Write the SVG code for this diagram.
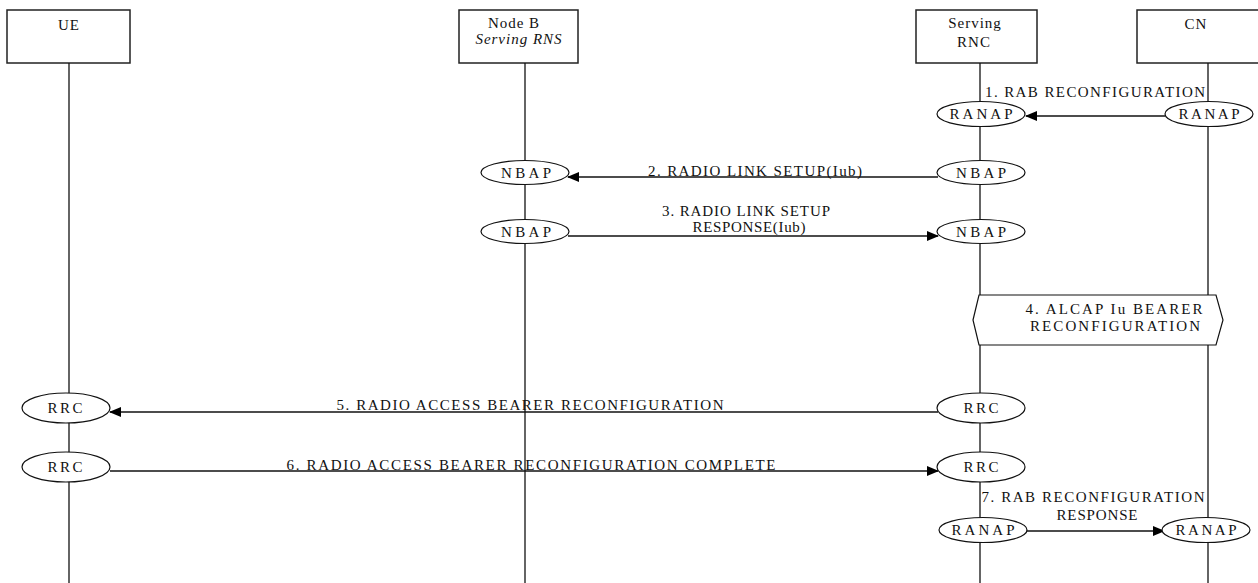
<svg xmlns="http://www.w3.org/2000/svg" width="1258" height="583" viewBox="0 0 1258 583">
<defs>
<marker id="ah" markerWidth="12" markerHeight="10" refX="11" refY="5" orient="auto" markerUnits="userSpaceOnUse">
<path d="M0,0 L12,5 L0,10 Z" fill="#000"/>
</marker>
<style>
text{font-family:"Liberation Serif","Times New Roman",serif;font-size:15px;fill:#111;}
.box{fill:#fff;stroke:#222;stroke-width:1.5;}
.life{stroke:#111;stroke-width:1.3;fill:none;}
.ell{fill:#fff;stroke:#111;stroke-width:1.2;}
.msg{stroke:#111;stroke-width:1.3;fill:none;marker-end:url(#ah);}
.c{text-anchor:middle;}
.ls{letter-spacing:1px;}
</style>
</defs>
<rect width="1258" height="583" fill="#fff"/>

<g id="UE">
<rect class="box" x="7" y="10" width="123" height="53"/>
<text class="c ls" x="69" y="30">UE</text>
<line class="life" x1="69" y1="63" x2="69" y2="583"/>
</g>
<g id="NodeB">
<rect class="box" x="459" y="10" width="119" height="53"/>
<text class="c ls" x="514" y="28">Node B</text>
<text class="c ls" x="519" y="44" font-style="italic">Serving RNS</text>
<line class="life" x1="525" y1="63" x2="525" y2="583"/>
</g>
<g id="SRNC">
<rect class="box" x="916" y="10" width="121" height="53"/>
<text class="c ls" x="975" y="28">Serving</text>
<text class="c ls" x="974" y="47">RNC</text>
<line class="life" x1="980" y1="63" x2="980" y2="583"/>
</g>
<g id="CN">
<rect class="box" x="1137" y="10" width="122" height="53"/>
<text class="c ls" x="1196" y="29">CN</text>
<line class="life" x1="1208" y1="63" x2="1208" y2="583"/>
</g>

<g id="connectors">
<line class="msg" x1="1165" y1="116" x2="1026" y2="116"/>
<line class="msg" x1="938" y1="177" x2="568" y2="177"/>
<line class="msg" x1="568" y1="236" x2="938" y2="236"/>
<line class="msg" x1="938" y1="412" x2="110" y2="412"/>
<line class="msg" x1="110" y1="471" x2="938" y2="471"/>
<line class="msg" x1="1025" y1="531" x2="1164" y2="531"/>
</g>

<g id="ranap-rnc-1"><ellipse class="ell" cx="981" cy="114" rx="44" ry="12.5"/><text class="c" x="981" y="119" textLength="63" lengthAdjust="spacing">RANAP</text></g>
<g id="ranap-cn-1"><ellipse class="ell" cx="1209" cy="114" rx="44" ry="12.5"/><text class="c" x="1209" y="119" textLength="61" lengthAdjust="spacing">RANAP</text></g>
<g id="nbap-nb-2"><ellipse class="ell" cx="525" cy="172.5" rx="44" ry="12"/><text class="c" x="526" y="177.5" textLength="50" lengthAdjust="spacing">NBAP</text></g>
<g id="nbap-rnc-2"><ellipse class="ell" cx="981" cy="172.5" rx="44" ry="12"/><text class="c" x="981" y="177.5" textLength="50" lengthAdjust="spacing">NBAP</text></g>
<g id="nbap-nb-3"><ellipse class="ell" cx="525" cy="231.5" rx="44" ry="12"/><text class="c" x="526" y="236.5" textLength="50" lengthAdjust="spacing">NBAP</text></g>
<g id="nbap-rnc-3"><ellipse class="ell" cx="981" cy="231.5" rx="44" ry="12"/><text class="c" x="981" y="236.5" textLength="50" lengthAdjust="spacing">NBAP</text></g>
<g id="alcap"><polygon class="ell" points="973,320 979,295 1216,295 1223,320 1216,345 979,345"/>
<text class="c" x="1114" y="314" textLength="177" lengthAdjust="spacing">4. ALCAP Iu BEARER</text>
<text class="c" x="1115" y="331" textLength="170" lengthAdjust="spacing">RECONFIGURATION</text></g>
<g id="rrc-ue-5"><ellipse class="ell" cx="66" cy="408" rx="44" ry="15"/><text class="c" x="65" y="413" textLength="35" lengthAdjust="spacing">RRC</text></g>
<g id="rrc-rnc-5"><ellipse class="ell" cx="981" cy="408" rx="44" ry="15"/><text class="c" x="981" y="413" textLength="35" lengthAdjust="spacing">RRC</text></g>
<g id="rrc-ue-6"><ellipse class="ell" cx="66" cy="467" rx="44" ry="15"/><text class="c" x="65" y="472" textLength="35" lengthAdjust="spacing">RRC</text></g>
<g id="rrc-rnc-6"><ellipse class="ell" cx="981" cy="467" rx="44" ry="15"/><text class="c" x="981" y="472" textLength="35" lengthAdjust="spacing">RRC</text></g>
<g id="ranap-rnc-7"><ellipse class="ell" cx="983" cy="530" rx="44" ry="12.5"/><text class="c" x="983" y="535" textLength="63" lengthAdjust="spacing">RANAP</text></g>
<g id="ranap-cn-7"><ellipse class="ell" cx="1206" cy="530" rx="44" ry="12.5"/><text class="c" x="1206" y="535" textLength="61" lengthAdjust="spacing">RANAP</text></g>

<g id="labels">
<text class="c" x="1095" y="97" textLength="220" lengthAdjust="spacing">1. RAB RECONFIGURATION</text>
<text class="c" x="755" y="176" textLength="214" lengthAdjust="spacing">2. RADIO LINK SETUP(Iub)</text>
<text class="c" x="746" y="216" textLength="168" lengthAdjust="spacing">3. RADIO LINK SETUP</text>
<text class="c" x="749" y="232" textLength="113" lengthAdjust="spacing">RESPONSE(Iub)</text>
<text class="c" x="530" y="410" textLength="387" lengthAdjust="spacing">5. RADIO ACCESS BEARER RECONFIGURATION</text>
<text class="c" x="531" y="470" textLength="489" lengthAdjust="spacing">6. RADIO ACCESS BEARER RECONFIGURATION COMPLETE</text>
<text class="c" x="1093" y="502" textLength="223" lengthAdjust="spacing">7. RAB RECONFIGURATION</text>
<text class="c" x="1097" y="520" textLength="81" lengthAdjust="spacing">RESPONSE</text>
</g>
</svg>
